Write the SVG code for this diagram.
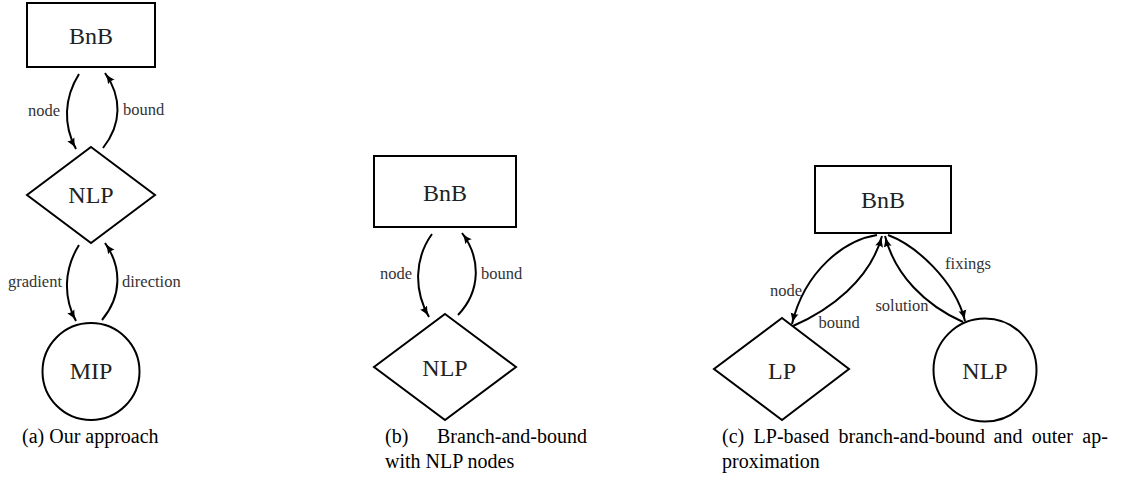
<svg xmlns="http://www.w3.org/2000/svg" width="1134" height="495" viewBox="0 0 1134 495">
<style>
.shape{fill:none;stroke:#000;stroke-width:2}
.edge{fill:none;stroke:#000;stroke-width:2;marker-end:url(#arr)}
.nt{font-family:'Liberation Serif',serif;font-size:24px;fill:#222;text-anchor:middle}
.el{font-family:'Liberation Serif',serif;font-size:16.5px;fill:#333}
.cap{font-family:'Liberation Serif',serif;font-size:20px;fill:#000}
</style>
<defs>
<marker id="arr" markerUnits="userSpaceOnUse" markerWidth="12" markerHeight="10" viewBox="0 0 12 10" refX="11" refY="5" orient="auto">
<path d="M0,1 Q5,4 11,5 Q5,6 0,9 Q2,5 0,1 z" fill="#000"/>
</marker>
</defs>
<rect width="1134" height="495" fill="#fff"/>

<!-- (a) -->
<g id="a-bnb"><rect class="shape" x="27" y="3" width="128" height="64"/><text class="nt" x="91" y="44">BnB</text></g>
<g id="a-nlp"><polygon class="shape" points="91,147 155,195 91,243 27,195"/><text class="nt" x="91" y="203">NLP</text></g>
<g id="a-mip"><circle class="shape" cx="91" cy="371.5" r="48.5"/><text class="nt" x="91" y="379">MIP</text></g>

<!-- (b) -->
<g id="b-bnb"><rect class="shape" x="374" y="156" width="142" height="71"/><text class="nt" x="445" y="201">BnB</text></g>
<g id="b-nlp"><polygon class="shape" points="445,314 516,367 445,420 374,367"/><text class="nt" x="445" y="376">NLP</text></g>

<!-- (c) -->
<g id="c-bnb"><rect class="shape" x="815" y="166" width="136" height="67"/><text class="nt" x="883" y="207.5">BnB</text></g>
<g id="c-lp"><polygon class="shape" points="782,318 849,369 782,420 714,369"/><text class="nt" x="782" y="379">LP</text></g>
<g id="c-nlp"><circle class="shape" cx="985" cy="370" r="51.5"/><text class="nt" x="985" y="379">NLP</text></g>

<g id="connectors">
<path class="edge" d="M79,74 C64,98 63,125 76,149"/>
<path class="edge" d="M103,148 C122,124 122,97 105,73"/>
<path class="edge" d="M79,245 C64,269 63,297 76,321"/>
<path class="edge" d="M102,320 C122,296 122,267 105,243"/>
<path class="edge" d="M432,234 C414,259 414,291 429,317"/>
<path class="edge" d="M458,315 C481,291 481,258 462,233"/>
<path class="edge" d="M877,235 C845,240 805,270 792,324"/>
<path class="edge" d="M793,326 C830,310 870,280 882,236"/>
<path class="edge" d="M888,235 C915,245 955,280 965,321"/>
<path class="edge" d="M963,322 C925,305 895,275 885,236"/>
</g>

<g id="edge-labels">
<text class="el" x="60" y="116" text-anchor="end">node</text>
<text class="el" x="123" y="115">bound</text>
<text class="el" x="62" y="287" text-anchor="end">gradient</text>
<text class="el" x="122" y="287">direction</text>
<text class="el" x="412" y="279" text-anchor="end">node</text>
<text class="el" x="481" y="279">bound</text>
<text class="el" x="786" y="296" text-anchor="middle">node</text>
<text class="el" x="839" y="328" text-anchor="middle">bound</text>
<text class="el" x="902" y="311" text-anchor="middle">solution</text>
<text class="el" x="968" y="269" text-anchor="middle">fixings</text>
</g>

<g id="captions">
<text class="cap" x="22" y="443">(a) Our approach</text>
<text class="cap" y="443"><tspan x="385">(b)</tspan><tspan x="437">Branch-and-bound</tspan></text>
<text class="cap" x="385" y="468">with NLP nodes</text>
<text class="cap" y="443"><tspan x="722">(c)</tspan><tspan x="753.6">LP-based</tspan><tspan x="838.5">branch-and-bound</tspan><tspan x="993.5">and</tspan><tspan x="1031.8">outer</tspan><tspan x="1082.3">ap-</tspan></text>
<text class="cap" x="722" y="468">proximation</text>
</g>
</svg>
